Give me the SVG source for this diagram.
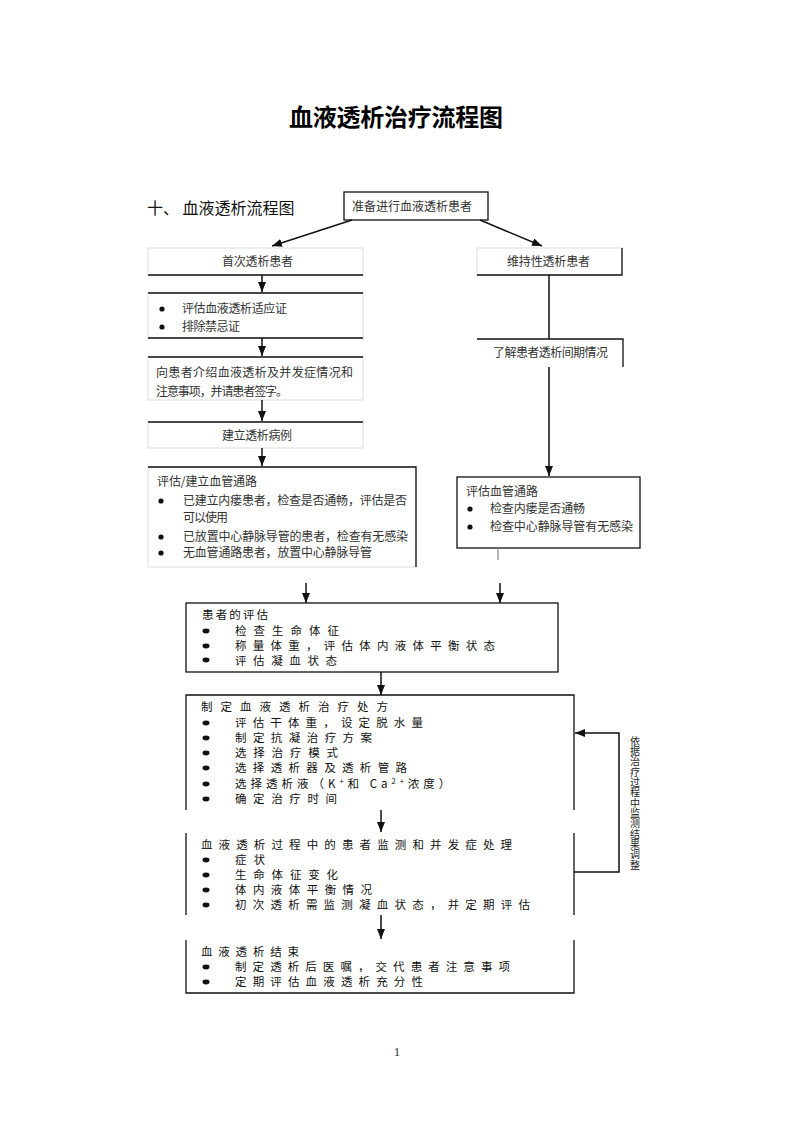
<svg xmlns="http://www.w3.org/2000/svg" width="793" height="1122" viewBox="0 0 793 1122">
<style>
text{font-family:"Noto Sans CJK SC","Noto Sans",sans-serif;fill:#222}
.t12{font-size:12px;fill:#333}
.t13{font-size:11.5px;fill:#111}
.vt{font-size:10px;fill:#222;writing-mode:vertical-rl}
.title{font-size:24px;font-weight:bold;fill:#000}
.h{font-size:16px;fill:#111}
.edge{stroke:#111;stroke-width:1.3;fill:none}
.faint{stroke:#ddd;stroke-width:1;fill:none}
.conn{stroke:#111;stroke-width:1.5;fill:none}
.gray{stroke:#888;stroke-width:1.2;fill:none}
.dot{fill:#111}
</style>
<defs>
<marker id="ah" markerUnits="userSpaceOnUse" markerWidth="10" markerHeight="8" refX="10" refY="4" orient="auto">
<path d="M0,0 L10,4 L0,8 z" fill="#111"/>
</marker>
</defs>
<rect width="793" height="1122" fill="#fff"/>
<text class="title" x="396" y="126" text-anchor="middle" textLength="214" lengthAdjust="spacing">血液透析治疗流程图</text>
<text class="h" x="147" y="214">十、 血液透析流程图</text>

<g id="n_start">
<rect x="344" y="192" width="144" height="28" class="edge"/>
<text class="t12" x="352" y="211" textLength="120" lengthAdjust="spacing">准备进行血液透析患者</text>
</g>

<g id="n_first">
<rect x="148" y="248" width="215" height="27" class="faint"/>
<path d="M148,275 H363" class="edge"/>
<text class="t12" x="222" y="266" textLength="71" lengthAdjust="spacing">首次透析患者</text>
</g>

<g id="n_indic">
<rect x="148" y="293" width="215" height="45" class="faint"/>
<path d="M148,293 H363 M148,338 H363" class="edge"/>
<circle class="dot" cx="162" cy="309" r="2.6"/>
<circle class="dot" cx="162" cy="327" r="2.6"/>
<text class="t12" x="182" y="313" textLength="105" lengthAdjust="spacing">评估血液透析适应证</text>
<text class="t12" x="182" y="331" textLength="58" lengthAdjust="spacing">排除禁忌证</text>
</g>

<g id="n_inform">
<rect x="148" y="357" width="215" height="43" class="faint"/>
<path d="M148,357 H363" class="edge"/>
<text class="t12" x="156" y="377" textLength="197" lengthAdjust="spacing">向患者介绍血液透析及并发症情况和</text>
<text class="t12" x="156" y="396" textLength="132" lengthAdjust="spacing">注意事项，并请患者签字。</text>
</g>

<g id="n_record">
<rect x="148" y="422" width="215" height="26" class="faint"/>
<path d="M148,422 H363" class="edge"/>
<text class="t12" x="222" y="440" textLength="70" lengthAdjust="spacing">建立透析病例</text>
</g>

<g id="n_access1">
<rect x="148" y="467" width="268" height="100" class="faint"/>
<path d="M148,467 H416 V567" class="edge"/>
<text class="t12" x="157" y="486" textLength="100" lengthAdjust="spacing">评估/建立血管通路</text>
<circle class="dot" cx="161" cy="501" r="2.6"/>
<circle class="dot" cx="161" cy="537" r="2.6"/>
<circle class="dot" cx="161" cy="553" r="2.6"/>
<text class="t12" x="183" y="505" textLength="224" lengthAdjust="spacing">已建立内瘘患者，检查是否通畅，评估是否</text>
<text class="t12" x="183" y="522" textLength="45" lengthAdjust="spacing">可以使用</text>
<text class="t12" x="183" y="541" textLength="225" lengthAdjust="spacing">已放置中心静脉导管的患者，检查有无感染</text>
<text class="t12" x="183" y="557" textLength="189" lengthAdjust="spacing">无血管通路患者，放置中心静脉导管</text>
</g>

<g id="n_maint">
<rect x="477" y="248" width="145" height="27" class="faint"/>
<path d="M477,275 H622 V248" class="edge"/>
<text class="t12" x="507" y="266" textLength="83" lengthAdjust="spacing">维持性透析患者</text>
</g>

<g id="n_interval">
<path d="M477,339 H623 V367" class="edge"/>
<text class="t12" x="493" y="357" textLength="115" lengthAdjust="spacing">了解患者透析间期情况</text>
</g>

<g id="n_access2">
<rect x="457" y="477" width="183" height="71" class="edge"/>
<text class="t12" x="466" y="496" textLength="72" lengthAdjust="spacing">评估血管通路</text>
<circle class="dot" cx="470" cy="509" r="2.6"/>
<circle class="dot" cx="470" cy="527" r="2.6"/>
<text class="t12" x="490" y="513" textLength="95" lengthAdjust="spacing">检查内瘘是否通畅</text>
<text class="t12" x="490" y="531" textLength="143" lengthAdjust="spacing">检查中心静脉导管有无感染</text>
</g>

<g id="n_assess">
<rect x="186" y="603" width="372" height="69" class="edge"/>
<text class="t13" x="202" y="619" textLength="66" lengthAdjust="spacing">患者的评估</text>
<ellipse class="dot" cx="206" cy="631" rx="3.5" ry="2.4"/>
<ellipse class="dot" cx="206" cy="646" rx="3.5" ry="2.4"/>
<ellipse class="dot" cx="206" cy="660" rx="3.5" ry="2.4"/>
<text class="t13" x="235" y="635" textLength="104" lengthAdjust="spacing">检查生命体征</text>
<text class="t13" x="235" y="650" textLength="260" lengthAdjust="spacing">称量体重，评估体内液体平衡状态</text>
<text class="t13" x="235" y="665" textLength="102" lengthAdjust="spacing">评估凝血状态</text>
</g>

<g id="n_rx">
<path d="M186,810 V695 H574 V810" class="edge"/>
<text class="t13" x="201" y="711" textLength="187" lengthAdjust="spacing">制定血液透析治疗处方</text>
<ellipse class="dot" cx="206" cy="723" rx="3.5" ry="2.4"/>
<ellipse class="dot" cx="206" cy="738" rx="3.5" ry="2.4"/>
<ellipse class="dot" cx="206" cy="753" rx="3.5" ry="2.4"/>
<ellipse class="dot" cx="206" cy="768" rx="3.5" ry="2.4"/>
<ellipse class="dot" cx="206" cy="784" rx="3.5" ry="2.4"/>
<ellipse class="dot" cx="206" cy="799" rx="3.5" ry="2.4"/>
<text class="t13" x="235" y="727" textLength="188" lengthAdjust="spacing">评估干体重，设定脱水量</text>
<text class="t13" x="235" y="742" textLength="137" lengthAdjust="spacing">制定抗凝治疗方案</text>
<text class="t13" x="235" y="757" textLength="103" lengthAdjust="spacing">选择治疗模式</text>
<text class="t13" x="235" y="772" textLength="172" lengthAdjust="spacing">选择透析器及透析管路</text>
<text class="t13" x="235" y="788" letter-spacing="4">选择透析液（K<tspan font-size="7.5" dy="-4.5">+</tspan><tspan dy="4.5">和 Ca</tspan><tspan font-size="7.5" dy="-4.5">2+</tspan><tspan dy="4.5">浓度）</tspan></text>
<text class="t13" x="235" y="803" textLength="102" lengthAdjust="spacing">确定治疗时间</text>
</g>

<g id="n_monitor">
<path d="M186,833 V915 M574,833 V915" class="edge"/>
<text class="t13" x="201" y="849" textLength="311" lengthAdjust="spacing">血液透析过程中的患者监测和并发症处理</text>
<ellipse class="dot" cx="206" cy="860" rx="3.5" ry="2.4"/>
<ellipse class="dot" cx="206" cy="875" rx="3.5" ry="2.4"/>
<ellipse class="dot" cx="206" cy="890" rx="3.5" ry="2.4"/>
<ellipse class="dot" cx="206" cy="905" rx="3.5" ry="2.4"/>
<text class="t13" x="235" y="864" textLength="30" lengthAdjust="spacing">症状</text>
<text class="t13" x="235" y="879" textLength="103" lengthAdjust="spacing">生命体征变化</text>
<text class="t13" x="235" y="894" textLength="137" lengthAdjust="spacing">体内液体平衡情况</text>
<text class="t13" x="235" y="909" textLength="295" lengthAdjust="spacing">初次透析需监测凝血状态，并定期评估</text>
</g>

<g id="n_end">
<path d="M186,940 V993 H574 V940" class="edge"/>
<text class="t13" x="201" y="956" textLength="98" lengthAdjust="spacing">血液透析结束</text>
<ellipse class="dot" cx="206" cy="967" rx="3.5" ry="2.4"/>
<ellipse class="dot" cx="206" cy="982" rx="3.5" ry="2.4"/>
<text class="t13" x="235" y="971" textLength="275" lengthAdjust="spacing">制定透析后医嘱，交代患者注意事项</text>
<text class="t13" x="235" y="986" textLength="188" lengthAdjust="spacing">定期评估血液透析充分性</text>
</g>

<g id="n_feedback_label">
<text class="vt" x="635" y="736" textLength="134" lengthAdjust="spacing">依据治疗过程中监测结果调整</text>
</g>

<g id="connectors">
<line class="conn" x1="352" y1="220" x2="272" y2="246" marker-end="url(#ah)"/>
<line class="conn" x1="480" y1="220" x2="542" y2="246" marker-end="url(#ah)"/>
<line class="conn" x1="262" y1="275" x2="262" y2="292" marker-end="url(#ah)"/>
<line class="conn" x1="262" y1="338" x2="262" y2="356" marker-end="url(#ah)"/>
<line class="conn" x1="262" y1="400" x2="262" y2="421" marker-end="url(#ah)"/>
<line class="conn" x1="262" y1="448" x2="262" y2="466" marker-end="url(#ah)"/>
<line class="conn" x1="549" y1="275" x2="549" y2="339"/>
<line class="conn" x1="549" y1="367" x2="549" y2="476" marker-end="url(#ah)"/>
<line class="gray" x1="498" y1="548" x2="498" y2="560"/>
<line class="conn" x1="306" y1="583" x2="306" y2="603" marker-end="url(#ah)"/>
<line class="conn" x1="500" y1="583" x2="500" y2="603" marker-end="url(#ah)"/>
<line class="conn" x1="381" y1="672" x2="381" y2="695" marker-end="url(#ah)"/>
<line class="conn" x1="381" y1="810" x2="381" y2="832" marker-end="url(#ah)"/>
<line class="conn" x1="381" y1="915" x2="381" y2="939" marker-end="url(#ah)"/>
<polyline class="conn" points="574,872 619,872 619,733 575,733" marker-end="url(#ah)"/>
</g>

<text x="397" y="1056" font-size="12" text-anchor="middle" fill="#333" style="font-family:'Liberation Serif',serif">1</text>
</svg>
